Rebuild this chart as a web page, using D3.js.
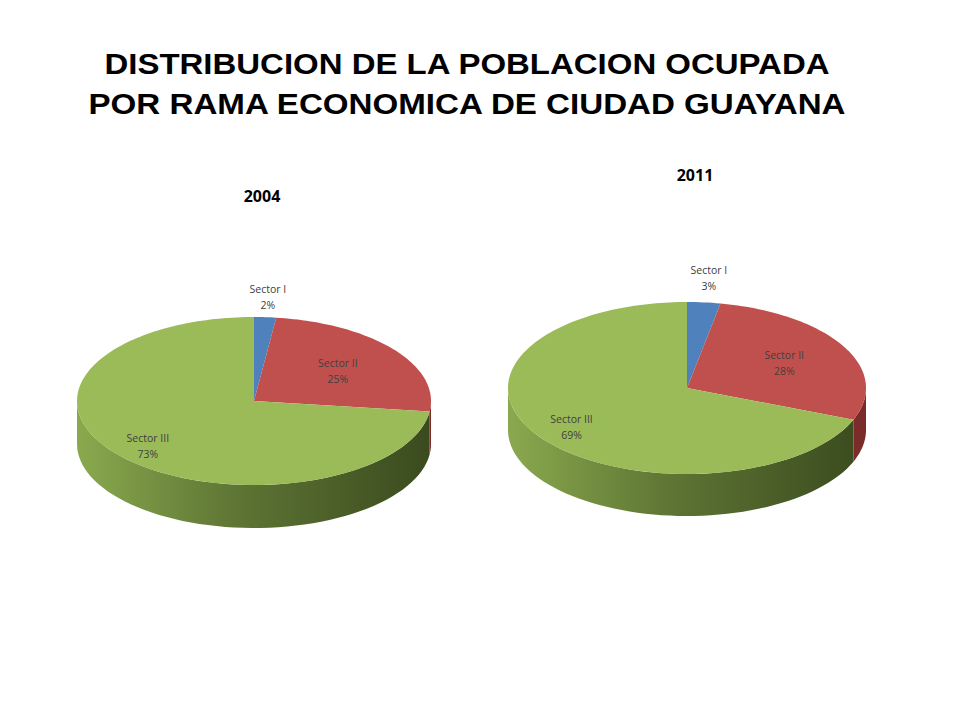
<!DOCTYPE html>
<html><head><meta charset="utf-8">
<script src="https://cdn.jsdelivr.net/npm/d3@7"></script>
<style>body{margin:0;background:#fff}</style></head>
<body><svg id="c" width="960" height="720"></svg>
<script>
const sectors = ["Sector I", "Sector II", "Sector III"];
const values2004 = [2, 25, 73];
const values2011 = [3, 28, 69];
const years = ["2004", "2011"];
const colors = ["#4f81bd", "#c0504d", "#9bbb59"];
const sideDark = ["#2c4a70", "#7a2b29", "#3a4a1e"];
const sideLight = ["#4f81bd", "#a9423f", "#8aa94e"];

const svg = d3.select("#c");
svg.append("text").attr("x", 467).attr("y", 74).attr("text-anchor", "middle")
  .attr("font-family", "Liberation Sans, Arial").attr("font-weight", "bold").attr("font-size", 29)
  .attr("textLength", 725).attr("lengthAdjust", "spacingAndGlyphs")
  .text("DISTRIBUCION  DE LA POBLACION OCUPADA");
svg.append("text").attr("x", 467).attr("y", 114).attr("text-anchor", "middle")
  .attr("font-family", "Liberation Sans, Arial").attr("font-weight", "bold").attr("font-size", 29)
  .attr("textLength", 757).attr("lengthAdjust", "spacingAndGlyphs")
  .text("POR RAMA ECONOMICA DE CIUDAD GUAYANA");

const defs = svg.append("defs");

function pie3d(values, opt, idx) {
  const { cx, cy, rx, ry, depth, titleX, titleY } = opt;
  const g = svg.append("g");
  g.append("text").attr("x", titleX).attr("y", titleY).attr("text-anchor", "middle")
    .attr("font-family", "Open Sans, sans-serif").attr("font-weight", "bold").attr("font-size", 16)
    .text(years[idx]);

  const arcs = d3.pie().sort(null).startAngle(0).endAngle(2 * Math.PI)(values);
  const px = a => cx + rx * Math.sin(a);
  const py = a => cy - ry * Math.cos(a);

  colors.forEach((c, i) => {
    const gr = defs.append("linearGradient").attr("id", `side${idx}_${i}`)
      .attr("gradientUnits", "userSpaceOnUse")
      .attr("x1", cx - rx).attr("x2", cx + rx).attr("y1", 0).attr("y2", 0);
    gr.append("stop").attr("offset", 0).attr("stop-color", sideLight[i]);
    gr.append("stop").attr("offset", 0.45).attr("stop-color", d3.interpolateRgb(sideLight[i], sideDark[i])(0.55));
    gr.append("stop").attr("offset", 1).attr("stop-color", sideDark[i]);
  });

  // side walls (front half only)
  arcs.forEach((d, i) => {
    const a0 = Math.max(d.startAngle, Math.PI / 2), a1 = Math.min(d.endAngle, 3 * Math.PI / 2);
    if (a1 <= a0) return;
    const n = 60, top = [], bot = [];
    for (let k = 0; k <= n; k++) {
      const a = a0 + (a1 - a0) * k / n;
      top.push([px(a), py(a)]); bot.push([px(a), py(a) + depth]);
    }
    g.append("path").attr("d", d3.line()(top.concat(bot.reverse())) + "Z").attr("fill", `url(#side${idx}_${i})`);
  });

  // top face
  arcs.forEach((d, i) => {
    const n = Math.max(8, Math.ceil((d.endAngle - d.startAngle) * 40));
    const pts = [[cx, cy]];
    for (let k = 0; k <= n; k++) {
      const a = d.startAngle + (d.endAngle - d.startAngle) * k / n;
      pts.push([px(a), py(a)]);
    }
    g.append("path").attr("d", d3.line()(pts) + "Z").attr("fill", colors[i]);
  });

  arcs.forEach((d, i) => {
    const m = (d.startAngle + d.endAngle) / 2, f = opt.labelR[i];
    const x = cx + rx * f * Math.sin(m), y = cy - ry * f * Math.cos(m);
    const t = g.append("text").attr("text-anchor", "middle")
      .attr("font-family", "Open Sans, sans-serif").attr("font-size", 10.5).attr("fill", "#404040");
    t.append("tspan").attr("x", x).attr("y", y - 3).text(sectors[i]);
    t.append("tspan").attr("x", x).attr("y", y + 13).text(values[i] + "%");
  });
}

pie3d(values2004, { cx: 254, cy: 401, rx: 177, ry: 84, depth: 43, titleX: 262, titleY: 202, labelR: [1.25, 0.6, 0.8] }, 0);
pie3d(values2011, { cx: 687, cy: 388, rx: 179, ry: 86, depth: 42, titleX: 695, titleY: 181, labelR: [1.3, 0.62, 0.78] }, 1);
</script></body></html>
